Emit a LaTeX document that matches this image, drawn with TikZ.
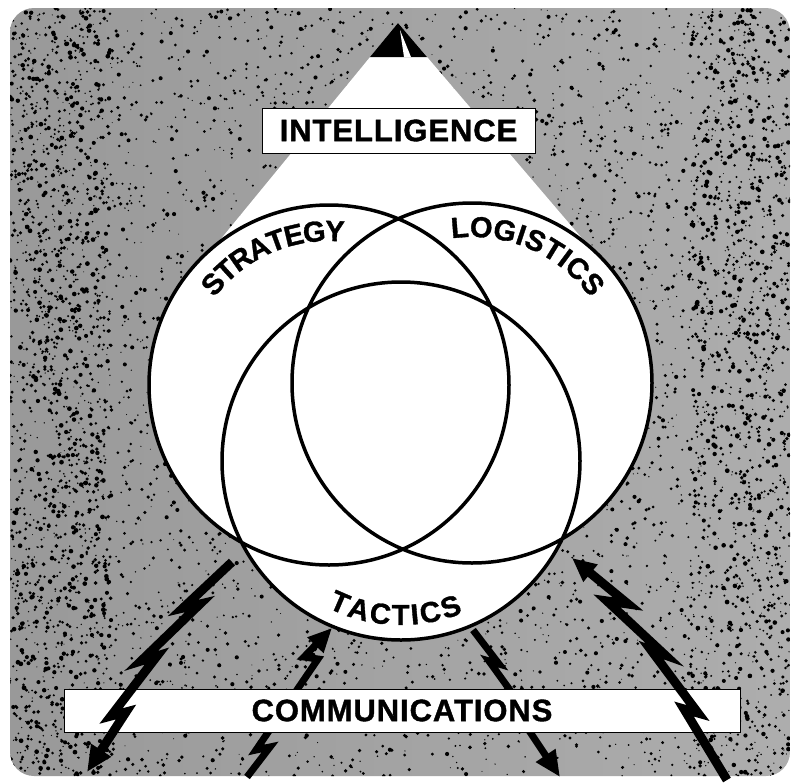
\documentclass[tikz,border=0pt]{standalone}
\usepackage{fontspec}
\setmainfont{Liberation Sans}[BoldFeatures={FakeBold=1.2}]
\usetikzlibrary{arrows.meta}
\newcommand{\lettering}{\fontsize{31pt}{31pt}\selectfont\bfseries\addfontfeatures{LetterSpace=3}}
\newcommand{\arclettering}{\fontsize{29pt}{29pt}\selectfont\bfseries}

\begin{document}
\begin{tikzpicture}[x=1pt,y=-1pt,
  ring/.style={line width=3.5pt},
  bolt/.style={line width=9pt,line join=miter,miter limit=8},
  thinbolt/.style={bolt,line width=7pt},
  boltarrow/.style={-{Triangle[length=26pt,width=22pt]}},
  boltback/.style={{Triangle[length=24pt,width=21pt]}-},
  labelbox/.style={draw,line width=1pt,fill=white,inner sep=0pt,font=\lettering},
  arcletter/.style={inner sep=0pt,font=\arclettering}]
  \useasboundingbox (0,0) rectangle (795,782);
  \coordinate (strat) at (329,385);
  \coordinate (logi) at (472,383);
  \coordinate (tact) at (401,461);

  \begin{scope}
    \clip[rounded corners=24pt] (10,8) rectangle (790,776);
    \shade[left color=black!40,middle color=black!8,right color=black!32] (10,8) rectangle (790,776);
    \pgfmathsetseed{7}
    \foreach \k in {1,...,4500}
      \fill[black] (10+780*rnd,8+768*rnd) circle (0.5+1.6*rnd);
    \foreach \k in {1,...,1200}
      \fill[black] (10+100*rnd,8+768*rnd) circle (0.6+1.8*rnd);
    \foreach \k in {1,...,900}
      \fill[black] (690+100*rnd,8+768*rnd) circle (0.6+1.8*rnd);
  \end{scope}

  \fill[white] (398,23) -- (179,290) -- (strat) -- (logi) -- (609,270) -- cycle;
  \fill[black] (398,23) -- (370,57) -- (427,57) -- cycle;
  \fill[white] (400,30) -- (404,57) -- (411,57) -- cycle;
  \node[labelbox,minimum width=273pt,minimum height=45pt] (intel) at (398.5,130.5) {INTELLIGENCE};

  \draw[thinbolt,boltback] (332,628) -- (304,657) -- (318,659) -- (256,750) -- (270,747) -- (247,777);
  \draw[thinbolt,boltarrow] (473,630) -- (499,664) -- (489,661) -- (520,704) -- (510,702) -- (560,777);
  \node[labelbox,minimum width=676pt,minimum height=43pt] (comms) at (402,710.5) {COMMUNICATIONS};
  \draw[bolt,boltarrow] (232,562) -- (183,608) -- (200,604) -- (141,661) -- (157,656) -- (111,716) -- (126,712) -- (87,772);
  \draw[bolt,boltback] (572,558) -- (628,604) -- (607,601) -- (665,655) -- (651,650) -- (698,713) -- (684,709) -- (727,780);

  \fill[white] (strat) circle[radius=180] (logi) circle[radius=180] (tact) circle[radius=179];
  \draw[ring] (strat) circle[radius=180] (logi) circle[radius=180] (tact) circle[radius=179];

  \foreach \ch/\a [count=\i] in {S/138.9,T/132.05,R/124.93,A/117.23,T/110.10,E/103.25,G/95.53,Y/87.81}
    \node[arcletter,rotate=\a-90] (strat\i) at ([shift={({-\a}:154)}]strat) {\ch};
  \foreach \ch/\a [count=\i] in {L/94.5,O/86.58,G/77.80,I/71.59,S/65.95,T/58.60,I/53.25,C/47.33,S/39.4}
    \node[arcletter,rotate=\a-90] (logi\i) at ([shift={({-\a}:156)}]logi) {\ch};
  \foreach \ch/\a [count=\i] in {T/113.4,A/105.84,C/97.70,T/90.14,I/84.89,C/79.06,S/71.2}
    \node[arcletter,rotate=90-\a] (tact\i) at ([shift={(\a:154)}]tact) {\ch};
\end{tikzpicture}
\end{document}
